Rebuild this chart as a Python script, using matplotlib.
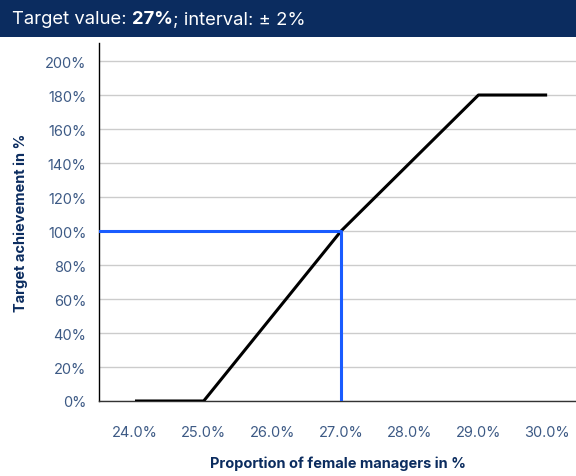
import matplotlib
matplotlib.use("Agg")
import matplotlib.pyplot as plt
from matplotlib.patches import Rectangle
from matplotlib.ticker import FuncFormatter

plt.rcParams["font.family"] = ["Inter", "DejaVu Sans"]

# data
share = [24.0, 25.0, 27.0, 29.0, 30.0]
achievement = [0, 0, 100, 180, 180]
target_share = 27.0
target_achievement = 100
x_ticks = [24.0, 25.0, 26.0, 27.0, 28.0, 29.0, 30.0]
y_ticks = [0, 20, 40, 60, 80, 100, 120, 140, 160, 180, 200]

navy = "#0b2c5f"
tick_col = "#3d5a85"

fig = plt.figure(figsize=(5.76, 4.77), dpi=100)

# header bar
fig.patches.append(Rectangle((0, 1 - 38 / 477), 1, 38 / 477, transform=fig.transFigure,
                             facecolor=navy, edgecolor="none", zorder=0))
parts = [("Target value: ", "normal"), ("27%", "bold"), ("; interval: ± 2%", "normal")]
x0 = 12 / 576
fig.canvas.draw()
r = fig.canvas.get_renderer()
for s, w in parts:
    t = fig.text(x0, 1 - 20 / 477, s, color="white", fontsize=13.3, fontweight=w, va="center", ha="left")
    bb = t.get_window_extent(renderer=r)
    x0 += bb.width / fig.bbox.width

ax = fig.add_axes([99 / 576, 75 / 477, 1 - 99 / 576, (402 - 44) / 477])
ax.plot(share, achievement, color="black", lw=2.2, zorder=3, solid_capstyle="butt")
ax.plot([23.4, target_share, target_share], [target_achievement, target_achievement, 0],
        color="#1a5cff", lw=2.2, zorder=4, solid_capstyle="butt")

ax.set_xlim(23.476, 30.42)
ax.set_ylim(0, 210.6)
ax.set_xticks(x_ticks)
ax.set_yticks(y_ticks)
ax.xaxis.set_major_formatter(FuncFormatter(lambda v, p: f"{v:.1f}%"))
ax.yaxis.set_major_formatter(FuncFormatter(lambda v, p: f"{v:.0f}%"))
ax.tick_params(axis="both", length=0, labelsize=10.5, colors=tick_col)
ax.tick_params(axis="x", pad=17)
ax.tick_params(axis="y", pad=9)
ax.grid(axis="y", color="#cccccc", lw=1)
ax.set_axisbelow(True)
for s in ["top", "right"]:
    ax.spines[s].set_visible(False)
ax.spines["left"].set_color("black")
ax.spines["bottom"].set_color("#333333")
ax.spines["left"].set_linewidth(1)
ax.spines["bottom"].set_linewidth(1)

ax.set_xlabel("Proportion of female managers in %", fontsize=10.5, fontweight="bold", color=navy, labelpad=12)
ax.set_ylabel("Target achievement in %", fontsize=10.5, fontweight="bold", color=navy, labelpad=12)

fig.savefig("out.png", dpi=100)
